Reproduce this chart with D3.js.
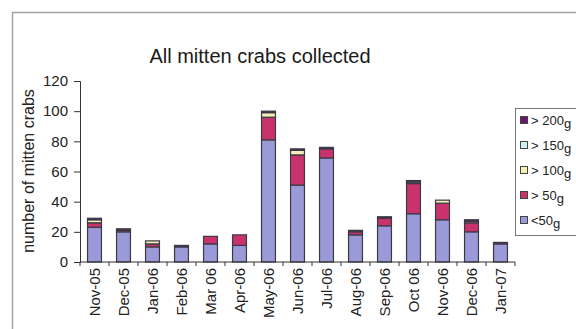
<!DOCTYPE html>
<html>
<head>
<meta charset="utf-8">
<script src="https://cdn.jsdelivr.net/npm/d3@7"></script>
<style>
  html, body { margin: 0; padding: 0; background: #fff; }
  svg { display: block; font-family: "Liberation Sans", Arial, sans-serif; }
</style>
</head>
<body>
<svg id="chart" width="576" height="329"></svg>
<script>
// Monthly mitten crab catches, split by weight class
const months = ["Nov-05","Dec-05","Jan-06","Feb-06","Mar 06","Apr-06","May-06","Jun-06","Jul-06","Aug-06","Sep-06","Oct 06","Nov-06","Dec-06","Jan-07"];
const under50  = [23, 20, 10, 10, 12, 11, 81, 51, 69, 18, 24, 32, 28, 20, 12];
const over50   = [ 3,  1,  2,  0,  5,  7, 15, 20,  6,  2,  5, 20, 11,  6,  0];
const over100  = [ 2,  0,  2,  0,  0,  0,  3,  3,  0,  0,  0,  1,  2,  1,  0];
const over150  = [ 0,  0,  0,  0,  0,  0,  0,  0,  0,  0,  0,  0,  0,  0,  0];
const over200  = [ 1,  1,  0,  1,  0,  0,  1,  1,  1,  1,  1,  1,  0,  1,  1];
const yTicks = [0, 20, 40, 60, 80, 100, 120];

const seriesKeys   = ["<50g", "> 50g", "> 100g", "> 150g", "> 200g"];
const seriesValues = [under50, over50, over100, over150, over200];
const seriesColors = ["#9a9ad8", "#c8336c", "#f3efb6", "#cdf0f0", "#6a1470"];

const svg = d3.select("#chart");

// outer chart frame (only left and top edges fall inside the view)
svg.append("rect")
  .attr("x", 12.5).attr("y", 12.5)
  .attr("width", 700).attr("height", 500)
  .attr("fill", "none").attr("stroke", "#a3a3a3").attr("stroke-width", 1.5);

const x = d3.scaleBand().domain(months).range([80, 515]).paddingInner(0.52).paddingOuter(0.26);
const y = d3.scaleLinear().domain([0, 120]).range([262, 81]);

const table = months.map((m, i) => {
  const row = { month: m };
  seriesKeys.forEach((k, j) => { row[k] = seriesValues[j][i]; });
  return row;
});
const stacked = d3.stack().keys(seriesKeys)(table);

// bars
svg.append("g").selectAll("g")
  .data(stacked)
  .join("g")
    .attr("fill", (d, i) => seriesColors[i])
  .selectAll("rect")
  .data(d => d.filter(s => s[1] - s[0] > 0))
  .join("rect")
    .attr("x", d => x(d.data.month))
    .attr("y", d => y(d[1]))
    .attr("width", x.bandwidth())
    .attr("height", d => y(d[0]) - y(d[1]))
    .attr("stroke", "#3a3a44")
    .attr("stroke-width", 1.2);

// y axis
const yAxis = svg.append("g")
  .attr("transform", "translate(80,0)")
  .call(d3.axisLeft(y).tickValues(yTicks).tickSize(6).tickPadding(6));
yAxis.select(".domain").attr("stroke", "#333");
yAxis.selectAll(".tick line").attr("stroke", "#333");
yAxis.selectAll(".tick text")
  .attr("font-size", 15).attr("fill", "#222")
  .attr("font-family", "'Liberation Sans', Arial, sans-serif");

// x axis with ticks between categories
const xAxis = svg.append("g").attr("transform", "translate(0,262)");
xAxis.append("line")
  .attr("x1", 80).attr("x2", 515).attr("y1", 0).attr("y2", 0)
  .attr("stroke", "#333");
const step = x.step();
xAxis.selectAll("line.sep")
  .data(d3.range(months.length + 1))
  .join("line")
    .attr("class", "sep")
    .attr("x1", i => 80 + i * step).attr("x2", i => 80 + i * step)
    .attr("y1", 0).attr("y2", 4)
    .attr("stroke", "#333");
xAxis.selectAll("text")
  .data(months)
  .join("text")
    .attr("transform", d => `translate(${x(d) + x.bandwidth() / 2 + 5},6) rotate(-90)`)
    .attr("text-anchor", "end")
    .attr("font-size", 15)
    .attr("fill", "#222")
    .text(d => d);

// y axis title
svg.append("text")
  .attr("transform", "translate(34,171) rotate(-90)")
  .attr("text-anchor", "middle")
  .attr("font-size", 16)
  .attr("fill", "#222")
  .text("number of mitten crabs");

// chart title
svg.append("text")
  .attr("x", 260).attr("y", 63)
  .attr("text-anchor", "middle")
  .attr("font-size", 20)
  .attr("fill", "#1a1a1a")
  .text("All mitten crabs collected");

// legend, top entry is the heaviest class
const legend = svg.append("g");
legend.append("rect")
  .attr("x", 515.5).attr("y", 108.5)
  .attr("width", 100).attr("height", 127)
  .attr("fill", "#fff").attr("stroke", "#777");
const legendOrder = d3.range(seriesKeys.length).reverse();
const items = legend.selectAll("g.item")
  .data(legendOrder)
  .join("g")
    .attr("class", "item")
    .attr("transform", (d, i) => `translate(520,${120 + i * 25})`);
items.append("rect")
  .attr("x", 0.5).attr("y", -3.5)
  .attr("width", 7).attr("height", 7)
  .attr("fill", d => seriesColors[d])
  .attr("stroke", "#444");
const lt = items.append("text")
  .attr("x", 11).attr("y", 4.5)
  .attr("font-size", 13)
  .attr("fill", "#222");
lt.append("tspan").text(d => seriesKeys[d].replace(/g$/, ""));
lt.append("tspan").attr("dy", 3).text("g");
</script>
</body>
</html>
